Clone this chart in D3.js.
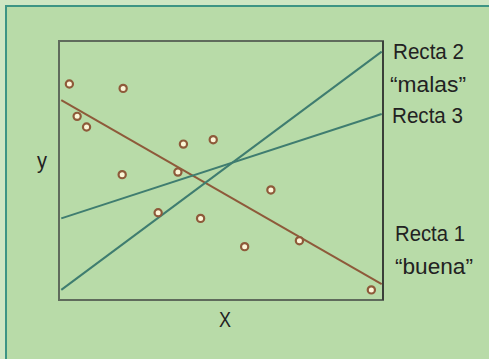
<!DOCTYPE html>
<html>
<head>
<meta charset="utf-8">
<script src="https://cdn.jsdelivr.net/npm/d3@7"></script>
<style>
  body { margin: 0; background: #b8dba8; }
  svg { display: block; }
  text { font-family: "Liberation Sans", "Arial", sans-serif; fill: #222; }
</style>
</head>
<body>
<svg id="chart"></svg>
<script>
// scatter points (x, y in 0..100 units)
let pointX = [3.2, 19.8, 5.6, 8.5, 38.4, 47.6, 19.5, 36.7, 30.6, 43.7, 65.4, 57.3, 74.2, 96.4];
let pointY = [83.4, 81.7, 70.9, 66.8, 60.2, 61.9, 48.4, 49.4, 33.7, 31.5, 42.5, 20.6, 22.9, 3.9];

// the three lines: start and end
let lineNames = ["Recta 1", "Recta 2", "Recta 3"];
let lineX = [[0.7, 99.6], [0.7, 99.6], [0.7, 99.6]];
let lineY = [[77.2, 6.1], [3.9, 95.9], [31.5, 71.8]];
let lineColors = ["#8e5a3a", "#3f7d70", "#3f7d70"];

let labelTexts = ["Recta 2", "\u201Cmalas\u201D", "Recta 3", "Recta 1", "\u201Cbuena\u201D"];

let width = 489, height = 359;
let margin = { top: 41, left: 59, right: 106, bottom: 59 };

function drawChart(){
    let svg = d3.select("#chart")
        .attr("width", width)
        .attr("height", height);

    // frame: light strip + teal border
    svg.append("rect").attr("x", 0).attr("y", 0).attr("width", width).attr("height", height)
        .attr("fill", "#cfe6c3");
    svg.append("rect").attr("x", 7).attr("y", 7).attr("width", width).attr("height", height)
        .attr("fill", "#b8dba8");
    svg.append("path")
        .attr("d", "M6," + height + " V6 H" + width)
        .attr("fill", "none")
        .attr("stroke", "#3d9484")
        .attr("stroke-width", 2);

    let x = d3.scaleLinear().domain([0, 100]).range([margin.left, width - margin.right]);
    let y = d3.scaleLinear().domain([0, 100]).range([height - margin.bottom, margin.top]);

    // plot box
    svg.append("rect")
        .attr("x", x(0)).attr("y", y(100))
        .attr("width", x(100) - x(0)).attr("height", y(0) - y(100))
        .attr("fill", "none")
        .attr("stroke", "#5f6b5c")
        .attr("stroke-width", 2);
    svg.append("line")
        .attr("x1", x(100)).attr("x2", x(100))
        .attr("y1", y(100)).attr("y2", y(0))
        .attr("stroke", "#222").attr("stroke-width", 1.2);

    // lines
    let line = d3.line().x(d => x(d[0])).y(d => y(d[1]));
    lineNames.forEach((name, i) => {
        let pts = lineX[i].map((v, j) => [v, lineY[i][j]]);
        svg.append("path")
            .attr("d", line(pts))
            .attr("fill", "none")
            .attr("stroke", lineColors[i])
            .attr("stroke-width", 2);
    });

    // points
    svg.append("g").selectAll("circle")
        .data(pointX)
        .enter().append("circle")
        .attr("cx", d => x(d))
        .attr("cy", (d, i) => y(pointY[i]))
        .attr("r", 3.6)
        .attr("fill", "#fbf6d8")
        .attr("stroke", "#8e5a3a")
        .attr("stroke-width", 2.2);

    // labels (condensed look via textLength)
    let labelPos = [
        { x: 393, y: 59, w: 71 },
        { x: 390, y: 92, w: 76 },
        { x: 392, y: 123, w: 71 },
        { x: 395, y: 241, w: 70 },
        { x: 395, y: 274, w: 78 }
    ];
    svg.append("g").selectAll("text")
        .data(labelTexts)
        .enter().append("text")
        .attr("x", (d, i) => labelPos[i].x)
        .attr("y", (d, i) => labelPos[i].y)
        .attr("textLength", (d, i) => labelPos[i].w)
        .attr("lengthAdjust", "spacingAndGlyphs")
        .style("font-size", "22px")
        .text(d => d);

    svg.append("text")
        .attr("x", 219)
        .attr("y", 327)
        .attr("textLength", 12)
        .attr("lengthAdjust", "spacingAndGlyphs")
        .style("font-size", "22px")
        .text("X");
    svg.append("text")
        .attr("x", 37)
        .attr("y", 168)
        .attr("textLength", 10)
        .attr("lengthAdjust", "spacingAndGlyphs")
        .style("font-size", "22px")
        .text("y");
}

drawChart();
</script>
</body>
</html>
